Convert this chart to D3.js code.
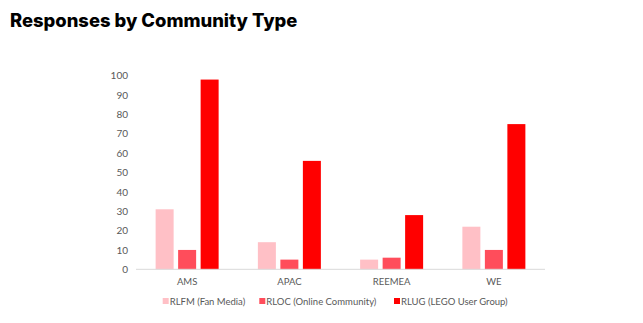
<!DOCTYPE html>
<html><head><meta charset="utf-8">
<script src="https://cdn.jsdelivr.net/npm/d3@7"></script>
<style>
body{margin:0;background:#fff;}
svg{display:block;}
</style></head>
<body>
<script>
const categories = ["AMS", "APAC", "REEMEA", "WE"];
const seriesNames = ["RLFM (Fan Media)", "RLOC (Online Community)", "RLUG (LEGO User Group)"];
const rlfm = [31, 14, 5, 22];
const rloc = [10, 5, 6, 10];
const rlug = [98, 56, 28, 75];
const yTicks = [0, 10, 20, 30, 40, 50, 60, 70, 80, 90, 100];
const colors = ["#FFC0C6", "#FF4D5B", "#FF0000"];

(function(){
const W = 643, H = 323;
const svg = d3.select("body").append("svg").attr("width", W).attr("height", H);

svg.append("text").attr("x", 10).attr("y", 27)
  .attr("font-family", "Inter, sans-serif").attr("font-weight", 800)
  .attr("font-size", 18.4).attr("fill", "#000").text("Responses by Community Type");

const pl = 136, pr = 545, pt = 75.7, pb = 269.3;
const x0 = d3.scaleBand().domain(categories).range([pl, pr]).paddingInner(0).paddingOuter(0);
const y = d3.scaleLinear().domain([0, 100]).range([pb, pt]);
const groupW = 63;
const x1 = d3.scaleBand().domain(d3.range(3)).range([0, groupW]).paddingInner(0.2);

const data = [rlfm, rloc, rlug];
const g = svg.append("g");
categories.forEach((c, i) => {
  const gx = x0(c) + x0.bandwidth() / 2 - groupW / 2;
  data.forEach((s, j) => {
    g.append("rect")
      .attr("x", gx + x1(j)).attr("width", x1.bandwidth())
      .attr("y", y(s[i])).attr("height", pb - y(s[i]))
      .attr("fill", colors[j]);
  });
});

svg.append("line").attr("x1", pl).attr("x2", pr).attr("y1", pb).attr("y2", pb)
  .attr("stroke", "#d9d9d9").attr("stroke-width", 1);

const font = "Lato, 'Noto Sans', sans-serif";
const yAxis = d3.axisLeft(y).tickValues(yTicks).tickSize(0).tickPadding(0);
const ya = svg.append("g").attr("transform", `translate(${128},0)`).call(yAxis);
ya.select(".domain").remove();
ya.selectAll("text").attr("font-family", font).attr("font-size", 10).attr("fill", "#595959");

const xAxis = d3.axisBottom(x0).tickSize(0).tickPadding(0);
const xa = svg.append("g").attr("transform", `translate(0,${pb + 9})`).call(xAxis);
xa.select(".domain").remove();
xa.selectAll("text").attr("font-family", font).attr("font-size", 9.5).attr("fill", "#595959");

const legX = [162.7, 259.3, 394];
seriesNames.forEach((n, j) => {
  svg.append("rect").attr("x", legX[j]).attr("y", 298).attr("width", 6).attr("height", 6).attr("fill", colors[j]);
  svg.append("text").attr("x", legX[j] + 7).attr("y", 304.5)
    .attr("font-family", font).attr("font-size", 9.5).attr("fill", "#595959").text(n);
});
})();
</script>
</body></html>
